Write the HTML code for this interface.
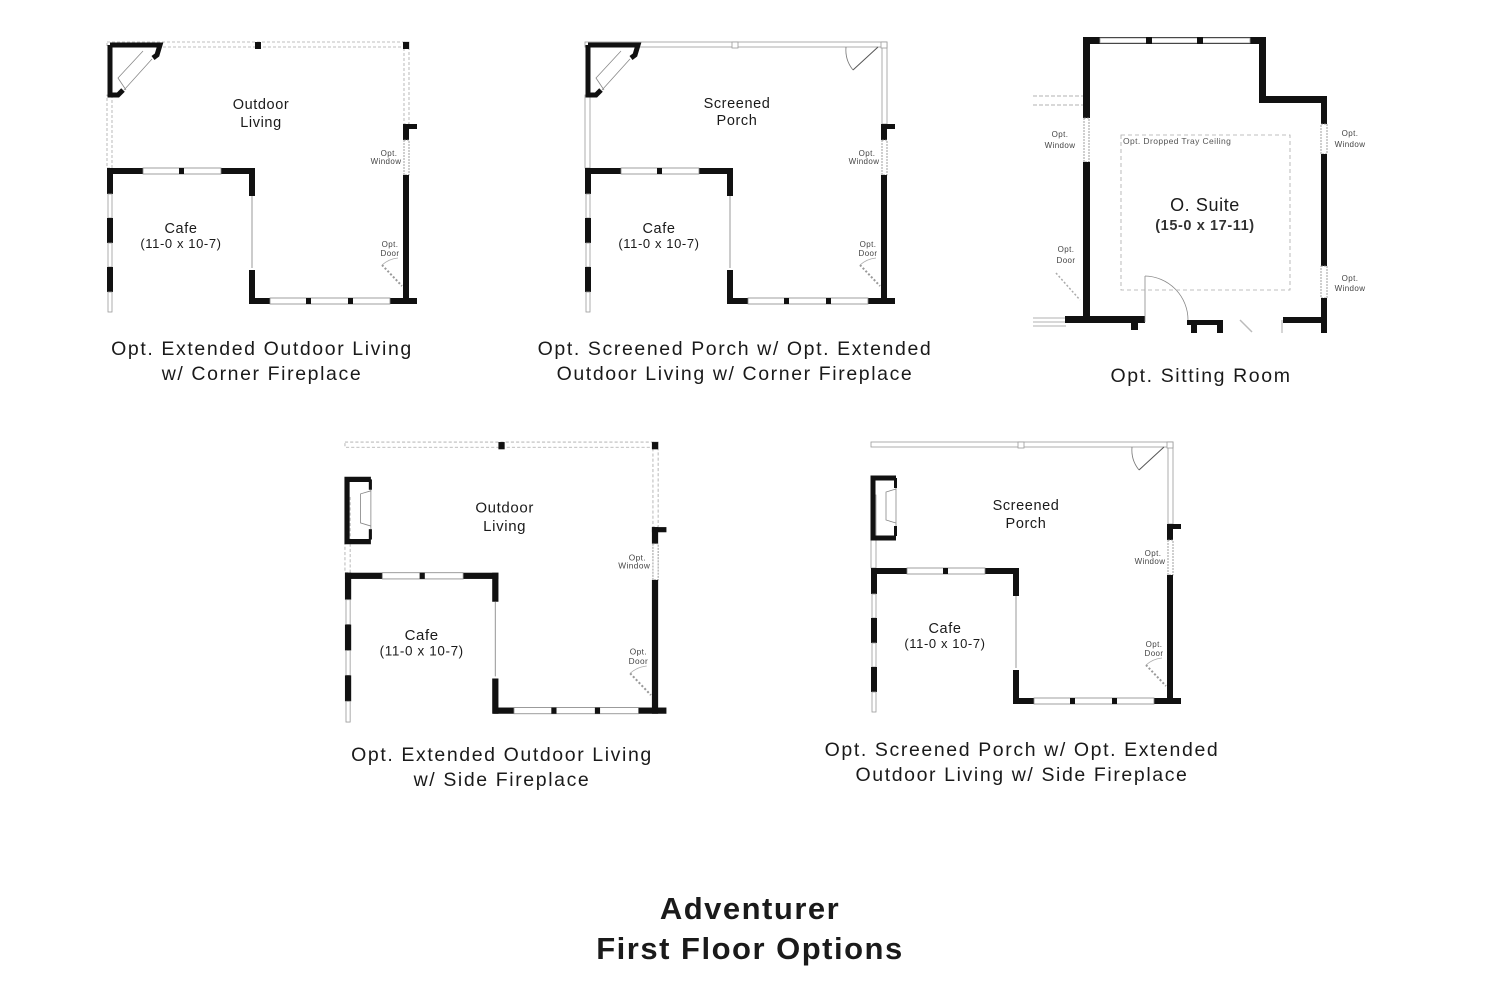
<!DOCTYPE html>
<html><head><meta charset="utf-8"><style>
html,body{margin:0;padding:0;background:#fff;}
svg{display:block}
text{font-family:"Liberation Sans",sans-serif;fill:#1a1a1a}
.cap{font-size:19.5px;letter-spacing:1.6px;text-anchor:middle}
.rm{font-size:14.5px;letter-spacing:0.6px;text-anchor:middle}
.sm{font-size:8px;letter-spacing:0.4px;text-anchor:middle;fill:#444}
.ttl{font-size:31px;font-weight:bold;letter-spacing:1.5px;text-anchor:middle}
</style></head><body>
<svg width="1500" height="1000" viewBox="0 0 1500 1000" xmlns="http://www.w3.org/2000/svg">
<defs>
<g id="base">
  <rect x="403" y="124" width="14" height="5" fill="#111"/>
  <rect x="403" y="124" width="6" height="16" fill="#111"/>
  <rect x="404" y="140" width="5" height="35" fill="none" stroke="#888" stroke-width="0.8" stroke-dasharray="2,1"/>
  <rect x="403" y="175" width="6" height="129" fill="#111"/>
  <text class="sm" x="389" y="156">Opt.</text><text class="sm" x="386" y="164">Window</text>
  <text class="sm" x="390" y="247">Opt.</text><text class="sm" x="390" y="256">Door</text>
  <line x1="382" y1="265" x2="402" y2="286" stroke="#999" stroke-width="2" stroke-dasharray="2,2"/>
  <path d="M382 265 A28 28 0 0 1 398 258" fill="none" stroke="#aaa" stroke-width="0.7"/>
  <rect x="250" y="298" width="167" height="6" fill="#111"/>
  <rect x="270" y="298" width="120" height="6" fill="#fff" stroke="#888" stroke-width="0.8"/>
  <rect x="306" y="298" width="5" height="6" fill="#111"/><rect x="348" y="298" width="5" height="6" fill="#111"/>
  <rect x="107" y="168" width="148" height="6" fill="#111"/>
  <rect x="143" y="168" width="78" height="6" fill="#fff" stroke="#888" stroke-width="0.8"/>
  <rect x="179" y="168" width="5" height="6" fill="#111"/>
  <rect x="249" y="168" width="6" height="28" fill="#111"/>
  <line x1="252" y1="196" x2="252" y2="268" stroke="#999" stroke-width="1"/>
  <rect x="249" y="270" width="6" height="34" fill="#111"/>
  <rect x="107" y="168" width="6" height="26" fill="#111"/>
  <rect x="108" y="194" width="4" height="24" fill="none" stroke="#999" stroke-width="0.8"/>
  <rect x="107" y="218" width="6" height="25" fill="#111"/>
  <rect x="108" y="243" width="4" height="24" fill="none" stroke="#999" stroke-width="0.8"/>
  <rect x="107" y="267" width="6" height="25" fill="#111"/>
  <rect x="108" y="292" width="4" height="20" fill="none" stroke="#999" stroke-width="0.8"/>
  <text class="rm" x="181" y="233">Cafe</text>
  <text class="rm" x="181" y="248" style="font-size:13px">(11-0 x 10-7)</text>
</g>
<g id="dashtop">
  <rect x="107" y="42" width="302" height="5" fill="none" stroke="#aaa" stroke-width="0.8" stroke-dasharray="3,2"/>
  <rect x="404" y="42" width="5" height="82" fill="none" stroke="#aaa" stroke-width="0.8" stroke-dasharray="3,2"/>
  <rect x="107" y="95" width="5" height="73" fill="none" stroke="#aaa" stroke-width="0.8" stroke-dasharray="3,2"/>
  <rect x="255" y="42" width="6" height="7" fill="#111"/>
  <rect x="403" y="42" width="6" height="7" fill="#111"/>
</g>
<g id="screentop">
  <rect x="107" y="42" width="302" height="5" fill="none" stroke="#999" stroke-width="0.8"/>
  <rect x="404" y="42" width="5" height="82" fill="none" stroke="#999" stroke-width="0.8"/>
  <rect x="107" y="95" width="5" height="73" fill="none" stroke="#999" stroke-width="0.8"/>
  <rect x="254" y="42" width="6" height="6" fill="#fff" stroke="#999" stroke-width="0.8"/>
  <rect x="403" y="42" width="6" height="6" fill="#fff" stroke="#999" stroke-width="0.8"/>
  <line x1="400" y1="47" x2="375" y2="70" stroke="#555" stroke-width="1"/>
  <path d="M368 47 A32 32 0 0 0 375 70" fill="none" stroke="#777" stroke-width="0.8"/>
</g>
<g id="cornerfp">
  <path d="M110 45 L160 45 L157 55 L153 58 M110 45 L110 95 L118 95 L123 90" fill="none" stroke="#111" stroke-width="5"/>
  <path d="M152 59 L124 90 M143 51 L118 78 L126 90" fill="none" stroke="#888" stroke-width="0.8"/>
</g>
<g id="sidefp">
  <path d="M370 480 L347 480 L347 540 L370 540" fill="none" stroke="#111" stroke-width="5" transform="translate(-238,-402)"/>
  <path d="M132 89 L122 92 L122 120 L132 123" fill="none" stroke="#888" stroke-width="0.8"/>
  <line x1="132" y1="88" x2="132" y2="126" stroke="#888" stroke-width="0.8"/>
  <rect x="130" y="78" width="3" height="10" fill="#111"/><rect x="130" y="126" width="3" height="10" fill="#111"/>
</g>
</defs>

<use href="#dashtop"/><use href="#cornerfp"/><use href="#base"/>
<text class="rm" x="261" y="109">Outdoor</text><text class="rm" x="261" y="127">Living</text>

<g transform="translate(478,0)">
<use href="#screentop"/><use href="#cornerfp"/><use href="#base"/>
<text class="rm" x="259" y="108">Screened</text><text class="rm" x="259" y="125">Porch</text>
</g>

<g transform="translate(234,398.5) scale(1.037)">
<use href="#dashtop"/><use href="#sidefp"/><use href="#base"/>
<text class="rm" x="261" y="110">Outdoor</text><text class="rm" x="261" y="128">Living</text>
</g>

<g transform="translate(764,400)">
<use href="#screentop"/><use href="#sidefp"/><use href="#base"/>
<text class="rm" x="262" y="110">Screened</text><text class="rm" x="262" y="128">Porch</text>
</g>

<g>
  <line x1="1033" y1="96" x2="1083" y2="96" stroke="#999" stroke-width="0.8" stroke-dasharray="4,2"/>
  <line x1="1033" y1="105" x2="1083" y2="105" stroke="#999" stroke-width="0.8" stroke-dasharray="4,2"/>
  <line x1="1033" y1="318" x2="1066" y2="318" stroke="#999" stroke-width="0.8"/>
  <line x1="1033" y1="322" x2="1066" y2="322" stroke="#999" stroke-width="0.8"/>
  <line x1="1033" y1="326" x2="1066" y2="326" stroke="#999" stroke-width="0.8"/>
  <rect x="1083" y="37" width="183" height="7" fill="#111"/>
  <rect x="1100" y="38" width="150" height="5" fill="#fff" stroke="#999" stroke-width="0.8"/>
  <rect x="1146" y="37" width="6" height="7" fill="#111"/><rect x="1197" y="37" width="6" height="7" fill="#111"/>
  <rect x="1083" y="37" width="7" height="81" fill="#111"/>
  <rect x="1084" y="118" width="5" height="44" fill="none" stroke="#888" stroke-width="0.8" stroke-dasharray="2,1"/>
  <rect x="1083" y="162" width="7" height="160" fill="#111"/>
  <rect x="1065" y="316" width="80" height="7" fill="#111"/>
  <rect x="1259" y="37" width="7" height="65" fill="#111"/>
  <rect x="1259" y="96" width="68" height="7" fill="#111"/>
  <rect x="1321" y="96" width="6" height="28" fill="#111"/>
  <rect x="1321" y="124" width="6" height="30" fill="none" stroke="#888" stroke-width="0.8" stroke-dasharray="2,1"/>
  <rect x="1321" y="154" width="6" height="112" fill="#111"/>
  <rect x="1321" y="266" width="6" height="32" fill="none" stroke="#888" stroke-width="0.8" stroke-dasharray="2,1"/>
  <rect x="1321" y="298" width="6" height="35" fill="#111"/>
  <rect x="1283" y="317" width="44" height="6" fill="#111"/>
  <rect x="1131" y="322" width="7" height="8" fill="#111"/>
  <rect x="1187" y="320" width="30" height="5" fill="#111"/>
  <rect x="1191" y="320" width="6" height="13" fill="#111"/>
  <rect x="1217" y="320" width="6" height="13" fill="#111"/>
  <line x1="1240" y1="320" x2="1252" y2="332" stroke="#bbb" stroke-width="1.5"/>
  <line x1="1282" y1="320" x2="1282" y2="333" stroke="#999" stroke-width="0.8"/>
  <line x1="1145" y1="276" x2="1145" y2="322" stroke="#888" stroke-width="0.8"/>
  <path d="M1145 276 A44 44 0 0 1 1188 320" fill="none" stroke="#888" stroke-width="0.8"/>
  <line x1="1056" y1="273" x2="1080" y2="300" stroke="#aaa" stroke-width="1.5" stroke-dasharray="2,2"/>
  <text class="sm" x="1066" y="252">Opt.</text><text class="sm" x="1066" y="263">Door</text>
  <text class="sm" x="1060" y="137">Opt.</text><text class="sm" x="1060" y="148">Window</text>
  <text class="sm" x="1350" y="136">Opt.</text><text class="sm" x="1350" y="147">Window</text>
  <text class="sm" x="1350" y="281">Opt.</text><text class="sm" x="1350" y="291">Window</text>
  <rect x="1121" y="135" width="169" height="155" fill="none" stroke="#aaa" stroke-width="0.8" stroke-dasharray="4,3"/>
  <text x="1123" y="144" style="font-size:8.5px;letter-spacing:0.4px;fill:#555">Opt. Dropped Tray Ceiling</text>
  <text class="rm" x="1205" y="211" style="font-size:18px">O. Suite</text>
  <text class="rm" x="1205" y="230" style="font-size:14.5px;font-weight:bold;fill:#333">(15-0 x 17-11)</text>
</g>

<text class="cap" x="262" y="355">Opt. Extended Outdoor Living</text>
<text class="cap" x="262" y="380">w/ Corner Fireplace</text>
<text class="cap" x="735" y="355">Opt. Screened Porch w/ Opt. Extended</text>
<text class="cap" x="735" y="380">Outdoor Living w/ Corner Fireplace</text>
<text class="cap" x="1201" y="382">Opt. Sitting Room</text>
<text class="cap" x="502" y="761">Opt. Extended Outdoor Living</text>
<text class="cap" x="502" y="786">w/ Side Fireplace</text>
<text class="cap" x="1022" y="756">Opt. Screened Porch w/ Opt. Extended</text>
<text class="cap" x="1022" y="781">Outdoor Living w/ Side Fireplace</text>
<text class="ttl" x="750" y="919">Adventurer</text>
<text class="ttl" x="750" y="959">First Floor Options</text>
</svg>
</body></html>
